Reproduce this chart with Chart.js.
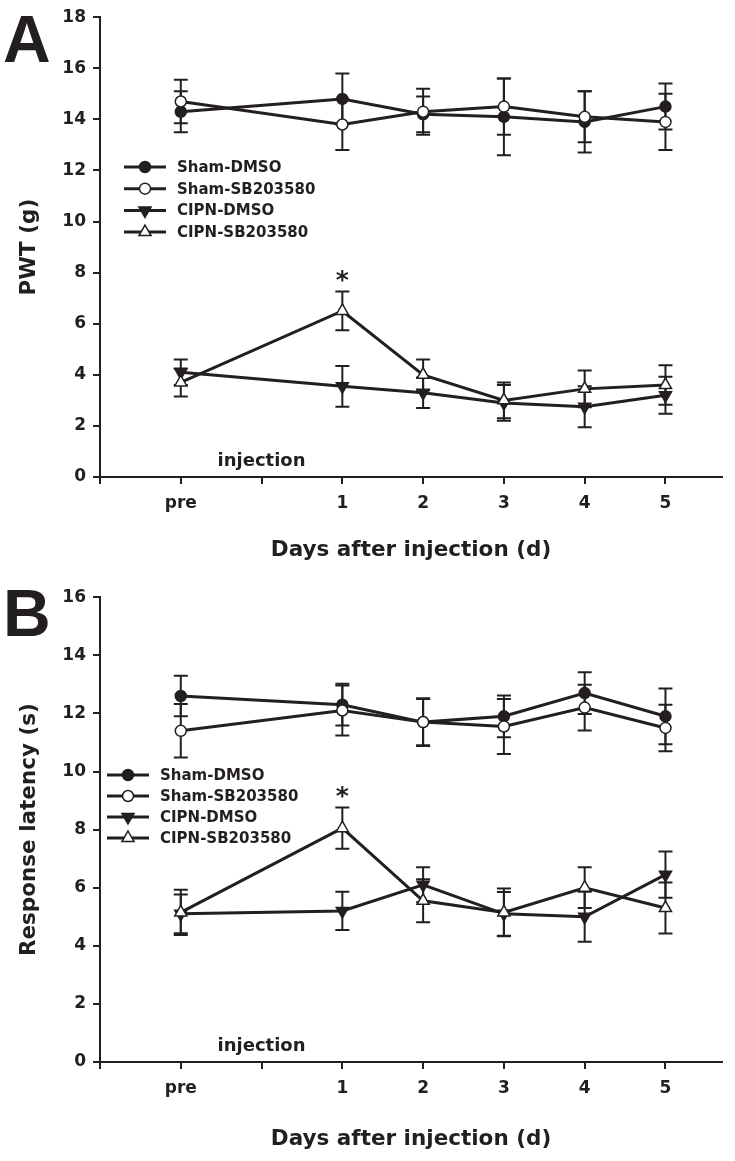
<!DOCTYPE html>
<html>
<head>
<meta charset="utf-8">
<script src="https://cdn.jsdelivr.net/npm/chart.js@4.4.0/dist/chart.umd.min.js"></script>
<style>
  html, body { margin: 0; padding: 0; background: #fff; }
  #wrap { position: relative; width: 735px; height: 1161px; }
  .panel { position: absolute; left: 0; width: 735px; }
  #panelA { top: 0; height: 580px; }
  #panelB { top: 580px; height: 581px; }
</style>
</head>
<body>
<div id="wrap">
  <div class="panel" id="panelA"><canvas id="chartA"></canvas></div>
  <div class="panel" id="panelB"><canvas id="chartB"></canvas></div>
</div>
<script>
// x categories and where they sit on the axis (one empty slot after "pre")
const days = ['pre', '1', '2', '3', '4', '5'];
const dayPos = [0, 2, 3, 4, 5, 6];
const tickPos = [-1, 0, 1, 2, 3, 4, 5, 6];
const tickText = ['', 'pre', '', '1', '2', '3', '4', '5'];
const groups = ['Sham-DMSO', 'Sham-SB203580', 'CIPN-DMSO', 'CIPN-SB203580'];

// panel A - PWT (g), mean and SEM
const pwtShamDmso = [14.3, 14.8, 14.2, 14.1, 13.9, 14.5];
const pwtShamDmsoSem = [0.8, 1.0, 0.7, 1.5, 1.2, 0.9];
const pwtShamSb = [14.7, 13.8, 14.3, 14.5, 14.1, 13.9];
const pwtShamSbSem = [0.85, 1.0, 0.9, 1.1, 1.0, 1.1];
const pwtCipnDmso = [4.1, 3.55, 3.3, 2.9, 2.75, 3.2];
const pwtCipnDmsoSem = [0.5, 0.8, 0.6, 0.7, 0.8, 0.72];
const pwtCipnSb = [3.7, 6.5, 4.0, 3.0, 3.45, 3.6];
const pwtCipnSbSem = [0.55, 0.76, 0.6, 0.7, 0.72, 0.77];

// panel B - response latency (s), mean and SEM
const latShamDmso = [12.6, 12.3, 11.7, 11.9, 12.7, 11.9];
const latShamDmsoSem = [0.7, 0.72, 0.8, 0.72, 0.72, 0.96];
const latShamSb = [11.4, 12.1, 11.7, 11.55, 12.2, 11.5];
const latShamSbSem = [0.92, 0.86, 0.82, 0.95, 0.79, 0.8];
const latCipnDmso = [5.1, 5.2, 6.1, 5.1, 5.0, 6.45];
const latCipnDmsoSem = [0.67, 0.66, 0.6, 0.75, 0.86, 0.8];
const latCipnSb = [5.15, 8.05, 5.55, 5.15, 6.0, 5.3];
const latCipnSbSem = [0.78, 0.71, 0.74, 0.82, 0.7, 0.88];

const starIndex = 1; // significant point of CIPN-SB203580 (day 1)

const ink = '#231f20';
const font = 'DejaVu Sans';
const marks = [
  { style: 'circle', fill: ink, rot: 0, r: 5.5, order: 3 },
  { style: 'circle', fill: '#fff', rot: 0, r: 5.5, order: 1 },
  { style: 'triangle', fill: ink, rot: 180, r: 7, order: 2 },
  { style: 'triangle', fill: '#fff', rot: 0, r: 7, order: 0 }
];

Chart.defaults.font.family = font;
Chart.defaults.color = ink;

function drawMark(ctx, m, x, y) {
  ctx.save();
  ctx.beginPath();
  if (m.style === 'circle') {
    ctx.arc(x, y, m.r, 0, Math.PI * 2);
  } else {
    const dir = m.rot === 180 ? -1 : 1;
    const h = m.r;
    ctx.moveTo(x, y - dir * h);
    ctx.lineTo(x + h * 0.866, y + dir * h * 0.5);
    ctx.lineTo(x - h * 0.866, y + dir * h * 0.5);
    ctx.closePath();
  }
  ctx.fillStyle = m.fill;
  ctx.fill();
  ctx.lineWidth = 1.5;
  ctx.strokeStyle = ink;
  ctx.stroke();
  ctx.restore();
}

function makeDatasets(series, sems) {
  return series.map((vals, k) => ({
    label: groups[k],
    data: vals.map((v, i) => ({ x: dayPos[i], y: v })),
    sem: sems[k],
    order: marks[k].order,
    borderColor: ink,
    borderWidth: 3,
    tension: 0,
    pointStyle: marks[k].style,
    pointRotation: marks[k].rot,
    pointRadius: marks[k].r,
    pointBackgroundColor: marks[k].fill,
    pointBorderColor: ink,
    pointBorderWidth: 1.5
  }));
}

const errorBars = {
  id: 'errorBars',
  beforeDatasetsDraw(chart) {
    const { ctx, scales: { x, y } } = chart;
    ctx.save();
    ctx.strokeStyle = ink;
    ctx.lineWidth = 2;
    chart.data.datasets.forEach(ds => {
      ds.data.forEach((p, i) => {
        const px = x.getPixelForValue(p.x);
        const top = y.getPixelForValue(p.y + ds.sem[i]);
        const bot = y.getPixelForValue(p.y - ds.sem[i]);
        ctx.beginPath();
        ctx.moveTo(px, top); ctx.lineTo(px, bot);
        ctx.moveTo(px - 7, top); ctx.lineTo(px + 7, top);
        ctx.moveTo(px - 7, bot); ctx.lineTo(px + 7, bot);
        ctx.stroke();
      });
    });
    ctx.restore();
  }
};

const extras = {
  id: 'extras',
  afterDraw(chart, args, opts) {
    const { ctx, scales: { x, y } } = chart;
    ctx.save();
    ctx.fillStyle = ink;

    // significance star
    const sb = chart.data.datasets[3];
    const p = sb.data[starIndex];
    const capY = y.getPixelForValue(p.y + sb.sem[starIndex]);
    ctx.font = 'bold 25px "' + font + '"';
    ctx.textAlign = 'center';
    ctx.textBaseline = 'alphabetic';
    ctx.fillText('*', x.getPixelForValue(p.x), capY - 4);

    // injection label
    ctx.font = 'bold 18px "' + font + '"';
    ctx.textBaseline = 'middle';
    ctx.fillText('injection', x.getPixelForValue(1), y.getPixelForValue(0) - 16);

    // legend
    ctx.font = 'bold 15px "' + font + '"';
    ctx.textAlign = 'left';
    groups.forEach((g, k) => {
      const ly = opts.legendY + k * opts.legendGap;
      ctx.strokeStyle = ink;
      ctx.lineWidth = 3;
      ctx.beginPath();
      ctx.moveTo(opts.legendX, ly);
      ctx.lineTo(opts.legendX + 42, ly);
      ctx.stroke();
      drawMark(ctx, marks[k], opts.legendX + 21, ly);
      ctx.fillText(g, opts.legendX + 53, ly + 1);
    });

    // panel letter
    ctx.font = 'bold 66px "Liberation Sans"';
    ctx.textBaseline = 'alphabetic';
    ctx.fillText(opts.letter, 3, opts.letterY);
    ctx.restore();
  }
};

function makeChart(id, series, sems, cfg) {
  return new Chart(document.getElementById(id), {
    type: 'line',
    data: { datasets: makeDatasets(series, sems) },
    options: {
      responsive: true,
      maintainAspectRatio: false,
      animation: false,
      events: [],
      layout: { padding: { top: cfg.padTop, right: 13, bottom: 0, left: 0 } },
      plugins: {
        legend: { display: false },
        tooltip: { enabled: false },
        extras: { letter: cfg.letter, letterY: cfg.letterY, legendX: cfg.legendX, legendY: cfg.legendY, legendGap: cfg.legendGap }
      },
      scales: {
        x: {
          type: 'linear',
          min: -1,
          max: 6.7,
          afterBuildTicks: s => { s.ticks = tickPos.map(v => ({ value: v })); },
          afterFit: s => { s.height = cfg.xHeight; },
          border: { color: ink, width: 2 },
          grid: { drawOnChartArea: false, drawTicks: true, tickLength: 7, color: ink, lineWidth: 2 },
          ticks: {
            autoSkip: false,
            maxRotation: 0,
            padding: 9,
            color: ink,
            font: { size: 17, weight: 'bold' },
            callback: v => { const i = tickPos.indexOf(v); return i >= 0 ? tickText[i] : ''; }
          },
          title: {
            display: true,
            text: 'Days after injection (d)',
            color: ink,
            font: { size: 21.5, weight: 'bold' },
            padding: { top: 0, bottom: cfg.titlePad }
          }
        },
        y: {
          min: 0,
          max: cfg.yMax,
          afterFit: s => { s.width = 100; },
          border: { color: ink, width: 2 },
          grid: { drawOnChartArea: false, drawTicks: true, tickLength: 7, color: ink, lineWidth: 2 },
          ticks: { stepSize: 2, padding: 7, color: ink, font: { size: 17, weight: 'bold' } },
          title: {
            display: true,
            text: cfg.yTitle,
            color: ink,
            font: { size: 21.5, weight: 'bold' },
            padding: { top: 17, bottom: 0 }
          }
        }
      }
    },
    plugins: [errorBars, extras]
  });
}

makeChart('chartA',
  [pwtShamDmso, pwtShamSb, pwtCipnDmso, pwtCipnSb],
  [pwtShamDmsoSem, pwtShamSbSem, pwtCipnDmsoSem, pwtCipnSbSem],
  { padTop: 11, xHeight: 103, titlePad: 17, yMax: 18, yTitle: 'PWT (g)',
    letter: 'A', letterY: 62, legendX: 124, legendY: 167, legendGap: 21.7 });

makeChart('chartB',
  [latShamDmso, latShamSb, latCipnDmso, latCipnSb],
  [latShamDmsoSem, latShamSbSem, latCipnDmsoSem, latCipnSbSem],
  { padTop: 16, xHeight: 99, titlePad: 9, yMax: 16, yTitle: 'Response latency (s)',
    letter: 'B', letterY: 56, legendX: 107, legendY: 195, legendGap: 21 });
</script>
</body>
</html>
